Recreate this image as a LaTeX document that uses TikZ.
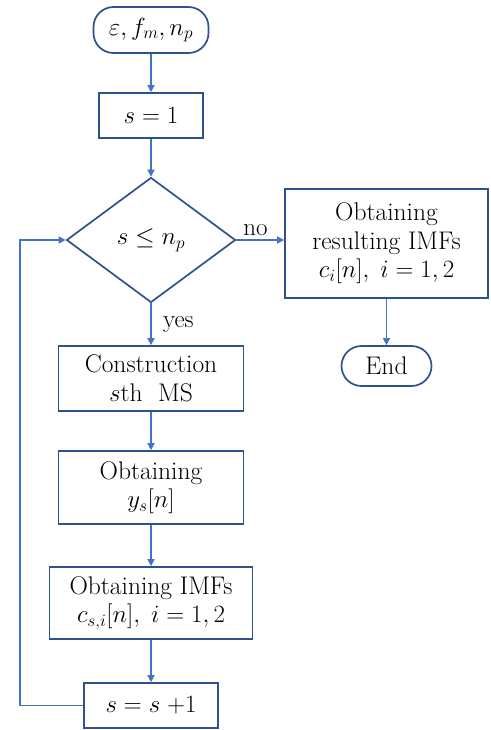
\documentclass[tikz,border=0pt]{standalone}
\usetikzlibrary{shapes.geometric,arrows.meta}
\definecolor{boxblue}{HTML}{2F528F}
\definecolor{lineblue}{HTML}{4472C4}
\begin{document}
\begin{tikzpicture}[x=1pt,y=-1pt,
  every node/.style={font=\fontsize{25.5}{28.5}\selectfont},
  box/.style={draw=boxblue,line width=1.7pt,rectangle,align=center,inner sep=0pt,fill=white},
  term/.style={box,rounded corners=20pt},
  decide/.style={draw=boxblue,line width=1.7pt,diamond,inner sep=0pt,minimum width=169pt,minimum height=125pt,aspect=1.35},
  conn/.style={draw=lineblue,line width=1.5pt,-{Triangle[length=7pt,width=7pt]}},
  lbl/.style={font=\fontsize{25}{28}\selectfont}]
\useasboundingbox (0,0) rectangle (490,730);
\node[term,minimum width=115pt,minimum height=46pt] (start) at (151,30) {$\varepsilon, f_m, n_p$};
\node[box,minimum width=104pt,minimum height=45pt] (s1) at (151,115.5) {$s=1$};
\node[decide] (dec) at (151,240) {$s\le n_p$};
\node[box,minimum width=203pt,minimum height=109pt] (res) at (386.5,243.5) {Obtaining\\resulting IMFs\\$c_i[n],\; i=1,2$};
\node[term,minimum width=90pt,minimum height=40pt] (end) at (386.5,366) {End};
\node[box,minimum width=185pt,minimum height=65pt] (cons) at (151,378.5) {Construction\\$s$th\ \ MS};
\node[box,minimum width=185pt,minimum height=73pt] (ys) at (151,487.5) {Obtaining\\$y_s[n]$};
\node[box,minimum width=203pt,minimum height=72pt] (imf) at (151,603) {Obtaining IMFs\\$c_{s,i}[n],\; i=1,2$};
\node[box,minimum width=134pt,minimum height=45pt] (inc) at (151,705.5) {$s=s\;{+}1$};
\coordinate (lb) at (20,705.5);
\coordinate (lt) at (20,240);
\draw[conn] (start) -- (s1);
\draw[conn] (s1) -- (dec);
\draw[conn] (dec) -- node[lbl,anchor=west,pos=0.5,xshift=8pt] {yes} (cons);
\draw[conn] (dec.east) -- node[lbl,above,pos=0.4] {no} (res.west |- dec.east);
\draw[conn] (res.south) -- (end);
\draw[conn] (cons) -- (ys);
\draw[conn] (ys) -- (imf);
\draw[conn] (imf) -- (inc);
\draw[conn] (inc.west) -- (lb) -- (lt) -- (dec.west);
\end{tikzpicture}
\end{document}
